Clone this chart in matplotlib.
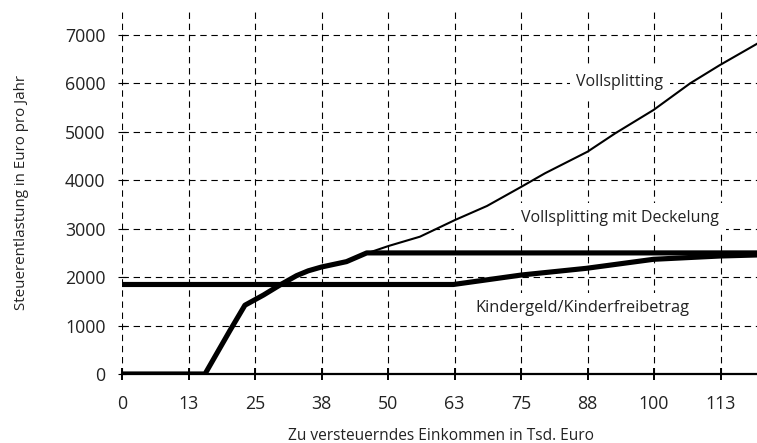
import matplotlib

matplotlib.use("Agg")
import matplotlib.pyplot as plt

# income in Tsd. Euro
x_ticks = [0, 12.5, 25, 37.5, 50, 62.5, 75, 87.5, 100, 112.5]
x_tick_labels = ["0", "13", "25", "38", "50", "63", "75", "88", "100", "113"]
y_ticks = [0, 1000, 2000, 3000, 4000, 5000, 6000, 7000]

# Vollsplitting (uncapped)
voll_x = [0, 15.6, 20.3, 23.1, 26.6, 29.7, 32.8, 35.0, 37.5, 42.2, 46.0,
          50.1, 56.0, 62.6, 68.6, 75.1, 79.5, 87.5, 92.7, 99.9,
          106.8, 112.4, 119.3, 122.0]
voll_y = [0, 0, 900, 1420, 1631, 1838, 2030, 2130, 2209, 2320, 2490,
          2643, 2835, 3180, 3469, 3868, 4144, 4590, 4969, 5451,
          6002, 6380, 6814, 6990]

# Vollsplitting mit Deckelung
cap_x = [0, 15.6, 20.3, 23.1, 26.6, 29.7, 32.8, 35.0, 37.5, 42.2, 46.0, 122.0]
cap_y = [0, 0, 900, 1420, 1631, 1838, 2030, 2130, 2209, 2320, 2500, 2500]

# Kindergeld / Kinderfreibetrag
kind_x = [0, 62.3, 75.1, 87.3, 99.9, 112.4, 119.3, 122.0]
kind_y = [1848, 1848, 2044, 2182, 2368, 2436, 2457, 2462]

plt.rcParams["font.family"] = ["Open Sans", "DejaVu Sans"]
plt.rcParams["lines.scale_dashes"] = False

fig = plt.figure(figsize=(7.57, 4.43), dpi=100)
ax = fig.add_axes([0.1612, 0.1558, 0.8433, 0.8199])

grid_style = dict(color="black", linewidth=0.8, linestyle=(0, (4.6, 3.4)), zorder=1)
for xv in x_ticks:
    ax.axvline(xv, **grid_style)
for yv in y_ticks[1:]:
    ax.axhline(yv, **grid_style)

ax.plot(voll_x, voll_y, color="black", linewidth=1.5, zorder=4)
ax.plot(cap_x, cap_y, color="black", linewidth=3.7, zorder=5)
ax.plot(kind_x, kind_y, color="black", linewidth=3.7, zorder=5)

box = dict(facecolor="white", edgecolor="none", pad=5)
ax.text(93.6, 6020, "Vollsplitting", ha="center", va="center",
        fontsize=11.5, color="#222222", bbox=box, zorder=3)
ax.text(93.6, 3215, "Vollsplitting mit Deckelung", ha="center", va="center",
        fontsize=11.5, color="#222222", bbox=box, zorder=3)
ax.text(86.5, 1360, "Kindergeld/Kinderfreibetrag", ha="center", va="center",
        fontsize=11.8, color="#222222", bbox=box, zorder=3)

ax.set_xlim(0, 120)
ax.set_ylim(0, 7500)
ax.set_xticks(x_ticks)
ax.set_xticklabels(x_tick_labels)
ax.set_yticks(y_ticks)

for side in ["top", "right", "left"]:
    ax.spines[side].set_visible(False)
ax.spines["bottom"].set_linewidth(1.6)
ax.spines["bottom"].set_zorder(6)

ax.tick_params(axis="x", direction="inout", length=8, width=1.4,
               labelsize=12.8, pad=11, colors="black", labelcolor="#222222")
ax.tick_params(axis="y", direction="inout", length=6, width=0.8,
               labelsize=12.8, pad=9, labelcolor="#222222")

ax.set_xlabel("Zu versteuerndes Einkommen in Tsd. Euro", fontsize=11.2,
              labelpad=11, color="#222222")
ax.set_ylabel("Steuerentlastung in Euro pro Jahr", fontsize=10.9,
              labelpad=26, color="#222222")

fig.savefig("out.png", dpi=100)
